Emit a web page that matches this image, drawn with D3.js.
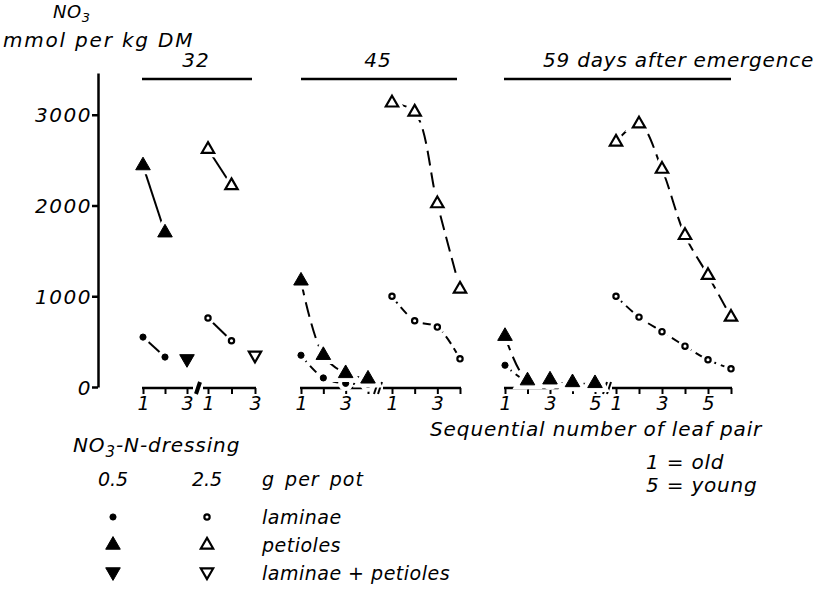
<!DOCTYPE html>
<html>
<head>
<meta charset="utf-8">
<script src="https://cdn.jsdelivr.net/npm/d3@7"></script>
<style>
body { margin: 0; background: #fff; }
text { font-family: "DejaVu Sans", sans-serif; font-style: italic; fill: #000; }
</style>
</head>
<body>
<svg width="818" height="590"></svg>
<script>
// NO3 content (mmol per kg DM) by leaf pair
var days = [32, 45, 59];
var doses = [0.5, 2.5];
var yTicks = [0, 1000, 2000, 3000];

var lam05_32 = [550, 330],  pet05_32 = [2440, 1700],  both05_32 = [310];
var lam25_32 = [760, 510],  pet25_32 = [2620, 2220],  both25_32 = [350];
var lam05_45 = [350, 100, 40, 30],  pet05_45 = [1170, 350, 150, 90];
var lam25_45 = [1000, 730, 660, 310],  pet25_45 = [3130, 3030, 2020, 1080];
var lam05_59 = [240, 60, 50, 40, 30],  pet05_59 = [560, 70, 80, 50, 40];
var lam25_59 = [1000, 770, 610, 450, 300, 200],  pet25_59 = [2700, 2900, 2400, 1670, 1230, 770];

var series = [
    {day: 32, dose: 0.5, part: "lam",  start: 1, v: lam05_32},
    {day: 32, dose: 0.5, part: "pet",  start: 1, v: pet05_32},
    {day: 32, dose: 0.5, part: "both", start: 3, v: both05_32},
    {day: 32, dose: 2.5, part: "lam",  start: 1, v: lam25_32},
    {day: 32, dose: 2.5, part: "pet",  start: 1, v: pet25_32},
    {day: 32, dose: 2.5, part: "both", start: 3, v: both25_32},
    {day: 45, dose: 0.5, part: "lam",  start: 1, v: lam05_45},
    {day: 45, dose: 0.5, part: "pet",  start: 1, v: pet05_45},
    {day: 45, dose: 2.5, part: "lam",  start: 1, v: lam25_45},
    {day: 45, dose: 2.5, part: "pet",  start: 1, v: pet25_45},
    {day: 59, dose: 0.5, part: "lam",  start: 1, v: lam05_59},
    {day: 59, dose: 0.5, part: "pet",  start: 1, v: pet05_59},
    {day: 59, dose: 2.5, part: "lam",  start: 1, v: lam25_59},
    {day: 59, dose: 2.5, part: "pet",  start: 1, v: pet25_59}
];

// layout of the little x axes (one per day and dressing)
var segs = {
    "32-0.5": {n: 3, x0: 143, x1: 187},
    "32-2.5": {n: 3, x0: 208, x1: 255},
    "45-0.5": {n: 4, x0: 301, x1: 368},
    "45-2.5": {n: 4, x0: 392, x1: 460},
    "59-0.5": {n: 5, x0: 505, x1: 595},
    "59-2.5": {n: 6, x0: 616, x1: 731}
};
var breaks = {32: 198, 45: 378, 59: 607};
var headers = {32: {x0: 142, x1: 252, tx: 196, anchor: "middle", label: "32"},
               45: {x0: 301, x1: 457, tx: 378, anchor: "middle", label: "45"},
               59: {x0: 504, x1: 731, tx: 543, anchor: "start", label: "59  days after emergence"}};

var svg = d3.select("svg");
var axisY = 388;

var y = d3.scaleLinear().domain([0, 3460]).range([387, 73]);

function label(sel, size, spacing) {
    return sel.style("font-size", size + "px").style("letter-spacing", spacing + "px");
}

// y axis
var yAxis = svg.append("g")
    .attr("transform", "translate(98,0)")
    .call(d3.axisLeft(y).tickValues(yTicks).tickSize(6).tickSizeOuter(0).tickFormat(d3.format("d")));
yAxis.select(".domain").attr("stroke-width", 2.5);
yAxis.selectAll(".tick line").attr("stroke-width", 2.5);
yAxis.selectAll(".tick text")
    .attr("x", -6).attr("dy", "0.36em")
    .style("font-size", "20px").style("letter-spacing", "1.5px")
    .style("font-family", "DejaVu Sans").style("font-style", "italic");

// y title
var t1 = label(svg.append("text").attr("x", 53).attr("y", 18), 18, 0.5);
t1.append("tspan").text("NO");
t1.append("tspan").attr("dy", 4).style("font-size", "13px").text("3");
label(svg.append("text").attr("x", 3).attr("y", 47), 20, 1.8).text("mmol per kg DM");

// headers
days.forEach(function(day) {
    var h = headers[day];
    svg.append("line").attr("x1", h.x0).attr("x2", h.x1).attr("y1", 79).attr("y2", 79)
        .attr("stroke", "#000").attr("stroke-width", 2.5);
    label(svg.append("text").attr("x", h.tx).attr("y", 67).attr("text-anchor", h.anchor), 20, day === 59 ? 0.8 : 1)
        .text(h.label);
});

// x scales + axes
var xs = {};
Object.keys(segs).forEach(function(key) {
    var s = segs[key];
    var day = +key.split("-")[0], dose = +key.split("-")[1];
    var x = d3.scaleLinear().domain([1, s.n]).range([s.x0, s.x1]);
    xs[key] = x;
    var g = svg.append("g").attr("transform", "translate(0," + axisY + ")")
        .call(d3.axisBottom(x).tickValues(d3.range(1, s.n + 1)).tickSize(6).tickSizeOuter(0)
            .tickFormat(function(d) { return d % 2 ? d : ""; }));
    g.select(".domain").remove();
    g.selectAll(".tick line").attr("stroke-width", 2);
    g.selectAll(".tick text").attr("y", 9).attr("dy", "0.71em")
        .style("font-size", "19px").style("font-family", "DejaVu Sans").style("font-style", "italic");
    var left = dose === 0.5 ? s.x0 - 1 : breaks[day] + 5;
    var right = dose === 0.5 ? breaks[day] - 5 : s.x1 + 1;
    g.append("line").attr("x1", left).attr("x2", right)
        .attr("stroke", "#000").attr("stroke-width", 2.5);
});

// break marks
days.forEach(function(day) {
    var bx = breaks[day];
    var offs = day === 32 ? [0] : [-2, 2];
    offs.forEach(function(o) {
        svg.append("line")
            .attr("x1", bx + o - 2).attr("x2", bx + o + 2)
            .attr("y1", axisY + 6).attr("y2", axisY - 6)
            .attr("stroke", "#000").attr("stroke-width", day === 32 ? 4 : 2);
    });
});

// curves
var line = d3.line()
    .x(function(d) { return d.x; })
    .y(function(d) { return d.y; })
    .curve(d3.curveCatmullRom.alpha(0.5));

var pts = series.map(function(s) {
    var x = xs[s.day + "-" + s.dose];
    return s.v.map(function(v, i) {
        return {x: x(s.start + i), y: y(v), part: s.part, dose: s.dose};
    });
});

svg.append("g").selectAll("path")
    .data(series.filter(function(s) { return s.v.length > 1; }))
    .enter().append("path")
    .attr("d", function(s) { return line(pts[series.indexOf(s)]); })
    .attr("fill", "none")
    .attr("stroke", "#000")
    .attr("stroke-width", 2)
    .attr("stroke-dasharray", function(s) {
        if (s.day === 32) return null;
        return s.part === "lam" ? "9,5" : "15,7";
    });

// markers
function drawMarker(g, part, dose, cx, cy, halo) {
    var open = dose === 2.5;
    var size = part === "lam" ? (open ? 22 : 30) : (open ? 66 : 92);
    var sym = d3.symbol().type(part === "lam" ? d3.symbolCircle : d3.symbolTriangle).size(size);
    var tr = "translate(" + cx + "," + cy + ")" + (part === "both" ? " rotate(180)" : "");
    if (halo) {
        g.append("path").attr("d", sym()).attr("transform", tr)
            .attr("fill", "#fff").attr("stroke", "#fff").attr("stroke-width", 9);
    }
    g.append("path").attr("d", sym()).attr("transform", tr)
        .attr("fill", open ? "#fff" : "#000")
        .attr("stroke", "#000")
        .attr("stroke-width", open ? 2.2 : 1)
        .attr("stroke-linejoin", "miter");
}

var mk = svg.append("g");
pts.forEach(function(arr) {
    arr.forEach(function(p) { drawMarker(mk, p.part, p.dose, p.x, p.y, true); });
});

// x title
label(svg.append("text").attr("x", 430).attr("y", 436), 20, 0.9).text("Sequential number of leaf pair");
label(svg.append("text").attr("x", 646).attr("y", 469), 20, 0.8).text("1  =  old");
label(svg.append("text").attr("x", 646).attr("y", 492), 20, 0.8).text("5  =  young");

// legend
var lg = svg.append("g");
var t2 = label(lg.append("text").attr("x", 73).attr("y", 452), 20, 0.9);
t2.append("tspan").text("NO");
t2.append("tspan").attr("dy", 5).style("font-size", "15px").text("3");
t2.append("tspan").attr("dy", -5).text("-N-dressing");

var legCols = [113, 207];
label(lg.selectAll("text.dose").data(doses).enter().append("text")
    .attr("class", "dose")
    .attr("x", function(d, i) { return legCols[i]; })
    .attr("y", 486).attr("text-anchor", "middle"), 19, 0)
    .text(function(d) { return d; });
label(lg.append("text").attr("x", 262).attr("y", 486), 19, 1).style("word-spacing", "3px")
    .text("g per pot");

var legRows = [{part: "lam", label: "laminae"},
               {part: "pet", label: "petioles"},
               {part: "both", label: "laminae + petioles"}];
legRows.forEach(function(r, i) {
    var cy = 517 + i * 28;
    doses.forEach(function(d, j) {
        drawMarker(lg, r.part, d, legCols[j], cy + (r.part === "both" ? -1 : 0), false);
    });
    label(lg.append("text").attr("x", 262).attr("y", cy + 7), 19, 0.5).text(r.label);
});
</script>
</body>
</html>
